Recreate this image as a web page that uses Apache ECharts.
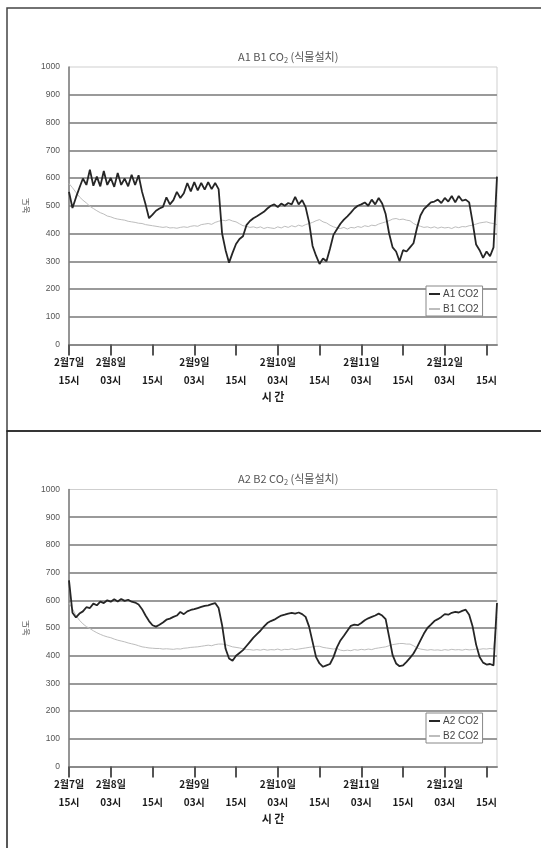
<!DOCTYPE html>
<html>
<head>
<meta charset="utf-8">
<script src="https://cdn.jsdelivr.net/npm/echarts@6/dist/echarts.min.js"></script>
<style>
html,body{margin:0;padding:0;background:#fff;}
#chart{width:541px;height:848px;}
</style>
</head>
<body>
<div id="chart"></div>
<script>
// Hourly readings starting 2월7일 15시
const A1 = [550,492,530,565,598,575,630,572,605,570,625,575,600,568,618,575,598,570,612,575,
610,550,505,455,468,482,490,496,530,505,520,550,528,545,582,552,585,555,582,558,
585,560,582,560,400,340,295,330,362,380,390,430,445,455,462,470,478,490,500,505,
495,508,500,510,505,532,505,520,495,440,355,320,290,310,300,345,395,415,435,450,
462,475,490,500,505,512,500,522,505,528,508,470,400,350,335,300,340,335,350,365,
420,465,488,500,512,515,522,510,528,515,535,512,535,518,522,512,440,360,340,312,
335,318,350,605];
const B1 = [580,565,548,532,520,510,498,490,482,475,470,463,460,455,452,450,448,444,442,440,
437,436,432,430,428,426,424,422,424,420,421,419,422,424,422,426,428,426,432,434,
436,433,440,444,448,446,450,445,442,435,428,426,422,424,420,424,418,422,420,418,
424,420,426,422,428,424,430,426,432,436,440,446,450,442,438,430,424,420,418,422,
416,422,420,425,422,428,425,430,428,434,438,442,446,452,454,450,452,448,446,436,
430,426,422,424,420,424,419,423,420,422,418,424,421,425,424,428,430,434,438,440,
442,438,436,432];
const A2 = [672,555,538,552,560,575,572,588,582,595,590,600,595,604,596,605,598,602,595,592,
585,568,545,525,510,505,512,520,530,534,540,545,558,550,560,565,568,572,576,580,
582,586,590,572,510,425,390,382,400,410,420,435,450,465,478,490,505,518,525,530,
538,545,548,552,555,552,556,550,540,505,450,395,372,360,365,370,395,430,455,472,
490,508,512,510,518,528,535,540,545,552,545,532,468,402,372,362,365,378,392,408,
430,455,480,500,512,525,532,540,550,548,555,558,556,562,566,548,505,440,395,375,
368,370,365,590];
const B2 = [590,570,545,528,515,505,498,490,483,477,472,468,465,460,456,453,450,446,443,440,
436,432,430,428,427,426,426,424,425,424,423,425,424,427,428,430,431,432,434,436,
438,436,440,442,442,440,436,432,430,428,425,422,422,420,422,420,423,420,422,421,
424,420,423,422,425,422,424,426,428,430,432,434,434,430,428,426,424,426,420,418,
420,418,422,420,423,421,424,422,426,428,430,432,436,440,442,444,444,442,442,436,
428,424,422,420,422,420,421,419,422,420,423,421,422,420,423,421,422,424,423,425,
424,426,424,540];

const xDateLabels = ['2월7일','2월8일','','2월9일','','2월10일','','2월11일','','2월12일',''];
const xHourLabels = ['15시','03시','15시','03시','15시','03시','15시','03시','15시','03시','15시'];
const yTicks = [0,100,200,300,400,500,600,700,800,900,1000];
const hourIndex = A1.map((_, i) => String(i));

const chart = echarts.init(document.getElementById('chart'), null, {renderer:'canvas'});

function xAxisFor(gi){
  return {
    type:'category', gridIndex:gi, data:hourIndex, boundaryGap:false,
    axisLine:{show:true, lineStyle:{color:'#8a8a8a', width:2}},
    axisTick:{show:true, inside:false, length:11, interval:(i)=>i%12===0, lineStyle:{color:'#555', width:2}},
    axisLabel:{
      interval:(i)=>i%12===0,
      margin:9,
      formatter:(v,i)=>{ const k=Math.round(Number(v)/12); const d=xDateLabels[k]||'\u00a0'; return d+'\n'+xHourLabels[k]; },
      fontFamily:'Noto Sans CJK KR', fontSize:10, fontWeight:'bold', color:'#1a1a1a', lineHeight:18
    },
    name:'시 간', nameLocation:'middle', nameGap:47,
    nameTextStyle:{fontFamily:'Noto Sans CJK KR', fontSize:11, fontWeight:'bold', color:'#1a1a1a', padding:[0,20,0,0]},
    splitLine:{show:false}
  };
}
function yAxisFor(gi){
  return {
    type:'value', gridIndex:gi, min:yTicks[0], max:yTicks[yTicks.length-1], interval:100,
    axisLine:{show:true, lineStyle:{color:'#7a7a7a', width:1.5}},
    axisTick:{show:false},
    axisLabel:{fontFamily:'Liberation Sans', fontSize:8.5, color:'#555', margin:9, formatter:(v)=>String(v)},
    splitLine:{show:true, showMaxLine:false, lineStyle:{color:'#9a9a9a', width:2}},
    name:'농도', nameLocation:'middle', nameRotate:90, nameGap:36,
    nameTextStyle:{fontFamily:'Noto Sans CJK KR', fontSize:8.5, color:'#555'}
  };
}
function legendFor(top, names){
  return {
    orient:'vertical', left:426, top:top, data:names,
    backgroundColor:'#fff', borderColor:'#888', borderWidth:1,
    padding:[3,4,2,3], itemGap:5, itemWidth:11, itemHeight:2, icon:'rect',
    textStyle:{fontFamily:'Liberation Sans', fontSize:10, color:'#444', padding:[0,0,0,-2]}
  };
}
function titleFor(top, prefix){
  return {
    text: prefix + ' CO{sub|2} (식물설치)', left:233, top:top,
    textStyle:{fontFamily:'Noto Sans CJK KR', fontSize:11, fontWeight:'normal', color:'#555',
      rich:{sub:{fontFamily:'Noto Sans CJK KR', fontSize:7.5, color:'#555', padding:[6,0,0,0]}}}
  };
}

const option = {
  animation:false,
  backgroundColor:'#fff',
  title:[ titleFor(45,'A1 B1'), titleFor(467,'A2 B2') ],
  legend:[ legendFor(286,['A1 CO2','B1 CO2']), legendFor(713,['A2 CO2','B2 CO2']) ],
  grid:[
    {left:69, top:67, width:428, height:277.5, show:true, borderColor:'#cfcfcf', borderWidth:1, backgroundColor:'transparent'},
    {left:69, top:489.5, width:428, height:277, show:true, borderColor:'#cfcfcf', borderWidth:1, backgroundColor:'transparent'}
  ],
  xAxis:[ xAxisFor(0), xAxisFor(1) ],
  yAxis:[ yAxisFor(0), yAxisFor(1) ],
  graphic:[
    {type:'rect', shape:{x:7, y:8, width:545, height:423}, style:{fill:'none', stroke:'#444', lineWidth:1.5}, silent:true, z:-1},
    {type:'rect', shape:{x:7, y:431, width:545, height:430}, style:{fill:'none', stroke:'#222', lineWidth:1.5}, silent:true, z:-1}
  ],
  series:[
    {name:'B1 CO2', type:'line', xAxisIndex:0, yAxisIndex:0, data:B1, showSymbol:false, lineStyle:{color:'#bdbdbd', width:1}, itemStyle:{color:'#bdbdbd'}, z:2},
    {name:'A1 CO2', type:'line', xAxisIndex:0, yAxisIndex:0, data:A1, showSymbol:false, lineStyle:{color:'#262626', width:1.8}, itemStyle:{color:'#262626'}, z:3},
    {name:'B2 CO2', type:'line', xAxisIndex:1, yAxisIndex:1, data:B2, showSymbol:false, lineStyle:{color:'#bdbdbd', width:1}, itemStyle:{color:'#bdbdbd'}, z:2},
    {name:'A2 CO2', type:'line', xAxisIndex:1, yAxisIndex:1, data:A2, showSymbol:false, lineStyle:{color:'#262626', width:1.8}, itemStyle:{color:'#262626'}, z:3}
  ]
};
chart.setOption(option);
</script>
</body>
</html>
